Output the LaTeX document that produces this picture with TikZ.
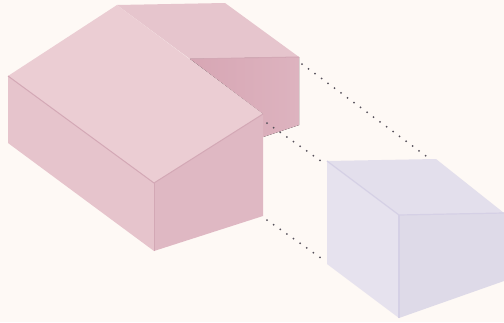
\documentclass[tikz,border=0pt]{standalone}
\usepackage{xcolor}
\usepackage{tikz}
\usetikzlibrary{calc}
\definecolor{paper}{HTML}{FEF9F5}
\definecolor{roofpink}{HTML}{EBCDD3}
\definecolor{sidepink}{HTML}{E6C4CC}
\definecolor{frontpink}{HTML}{DFB8C3}
\definecolor{backpink}{HTML}{E6C5CD}
\definecolor{notchpink}{HTML}{DDB3BF}
\definecolor{notchdark}{HTML}{D7A6B4}
\definecolor{edgepink}{HTML}{D3A8B5}
\definecolor{toplav}{HTML}{E3DFEC}
\definecolor{sidelav}{HTML}{E6E2EE}
\definecolor{frontlav}{HTML}{DEDAE8}
\definecolor{edgelav}{HTML}{D5D0E5}
\definecolor{dotgrey}{HTML}{55505A}

\begin{document}
\begin{tikzpicture}[
    x=1pt, y=-1pt,
    pinkface/.style={draw=edgepink, line width=1pt, line join=round},
    lavface/.style={draw=edgelav, line width=1.2pt, line join=round},
    dots/.style={draw=dotgrey, line width=2pt, line cap=round, dash pattern=on 0pt off 8.1pt}
]
    \useasboundingbox (0,0) rectangle (504,322);
    \fill [paper] (0,0) rectangle (504,322);

    % corners of the pink block
    \coordinate (w) at (8,76);
    \coordinate (n) at (117,5);
    \coordinate (e) at (263,114);
    \coordinate (s) at (154,183);
    \coordinate (wb) at (8,143);
    \coordinate (sb) at (154,251);
    \coordinate (eb) at (263,216);
    \coordinate (ne) at (225,3);
    \coordinate (far) at (299,57);
    \coordinate (farb) at (299,125);
    \coordinate (nook) at (190,59);
    \coordinate (inb) at (263,137);

    % corners of the lavender block
    \coordinate (lw) at (327,161);
    \coordinate (ln) at (436,159);
    \coordinate (le) at (504,213);
    \coordinate (ls) at (399,215);
    \coordinate (lwb) at (327,264);
    \coordinate (lsb) at (399,318);
    \coordinate (leb) at (504,281);

    % ends of the dotted lines
    \coordinate (d1a) at (302,64);
    \coordinate (d1b) at (426,156);
    \coordinate (d2a) at (267,123);
    \coordinate (d2b) at (321,161);
    \coordinate (d3a) at (267,220);
    \coordinate (d3b) at (321,258);

    % pink block
    \fill [backpink] (n) -- (ne) -- (far) -- (nook) -- cycle;
    \fill [left color=notchdark, right color=notchpink] (nook) -- (far) -- (farb) -- (inb) -- (e) -- cycle;
    \draw [pinkface] (nook) -- (far);
    \fill [sidepink] (w) -- (s) -- (sb) -- (wb) -- cycle;
    \fill [frontpink] (s) -- (e) -- (eb) -- (sb) -- cycle;
    \fill [roofpink] (w) -- (n) -- (e) -- (s) -- cycle;
    \draw [pinkface] (w) -- (s) -- (e);
    \draw [pinkface] (s) -- (sb);

    % lavender block
    \fill [toplav] (lw) -- (ln) -- (le) -- (ls) -- cycle;
    \fill [sidelav] (lw) -- (ls) -- (lsb) -- (lwb) -- cycle;
    \fill [frontlav] (ls) -- (le) -- (leb) -- (lsb) -- cycle;
    \draw [lavface] (lw) -- (ls) -- (le);
    \draw [lavface] (ls) -- (lsb);

    % dotted lines on top
    \draw [dots] (d1a) -- (d1b);
    \draw [dots] (d2a) -- (d2b);
    \draw [dots] (d3a) -- (d3b);
\end{tikzpicture}
\end{document}
